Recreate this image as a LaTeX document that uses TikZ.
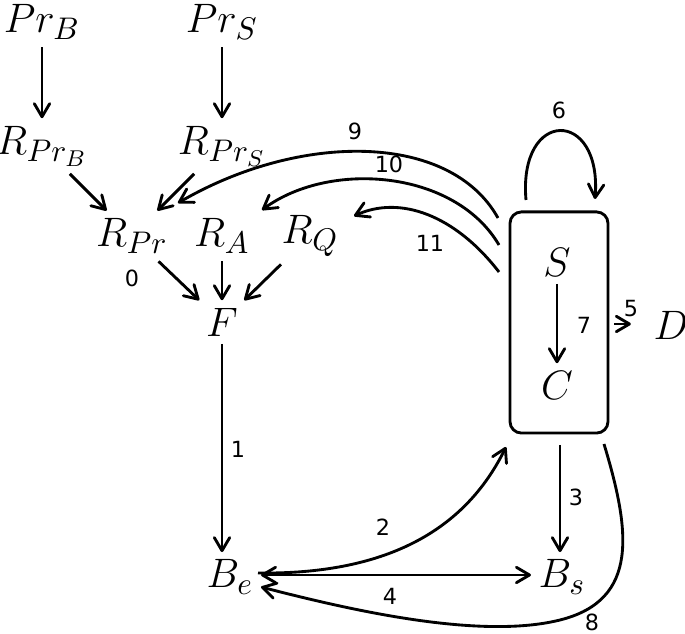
\documentclass[tikz,border=0pt]{standalone}
\usepackage{fontspec}
\newfontfamily\lblfont{DejaVu Sans}
\usetikzlibrary{arrows.meta}
\begin{document}
\begin{tikzpicture}[x=0.35pt,y=-0.35pt,
  mnode/.style={inner sep=2.5pt,font=\fontsize{15.2}{18}\selectfont},
  lbl/.style={inner sep=0pt,font=\lblfont\fontsize{7.8}{9}\selectfont},
  tip/.tip={Straight Barb[length=4.6pt,width=5.4pt,line join=round,line cap=round]},
  arr/.style={line width=1pt,-tip},
  darr/.style={line width=1pt,tip-tip},
  boxstyle/.style={draw,line width=1pt,rounded corners=4pt,minimum width=34.3pt,minimum height=77.4pt,inner sep=0pt}
]
\useasboundingbox (0,0) rectangle (685,634);
% nodes
\node[mnode] (PrB) at (42,22) {$Pr_B$};
\node[mnode] (PrS) at (222,22) {$Pr_S$};
\node[mnode] (RPrB) at (42,146) {$R_{Pr_B}$};
\node[mnode] (RPrS) at (222,146) {$R_{Pr_S}$};
\node[mnode] (RPr) at (132,236) {$R_{Pr}$};
\node[mnode] (RA) at (222,236) {$R_A$};
\node[mnode] (RQ) at (310,236) {$R_Q$};
\node[mnode] (F) at (222,322) {$F$};
\node[mnode] (Be) at (230,577) {$B_e$};
\node[mnode] (Bs) at (562,577) {$B_s$};
\node[boxstyle] (box) at (559,322.5) {};
\node[mnode] (S) at (557,262) {$S$};
\node[mnode] (C) at (557,385) {$C$};
\node[mnode] (D) at (671,325) {$D$};
% connector end points
\coordinate (s9) at (498,218);
\coordinate (e9) at (178,203);
\coordinate (s10) at (499,245);
\coordinate (e10) at (262,210);
\coordinate (s11) at (499,272);
\coordinate (e11) at (354,216);
\coordinate (s6) at (526,200);
\coordinate (e6) at (595,199);
\coordinate (s2) at (258,573);
\coordinate (e2) at (506,447);
\coordinate (s8) at (604,444);
\coordinate (m8) at (560,620);
\coordinate (e8) at (261,587);
\coordinate (s3) at (560,445);
\coordinate (s5) at (614,324);
% straight connectors
\draw[arr] (PrB) -- (RPrB);
\draw[arr] (PrS) -- (RPrS);
\draw[arr] (RPrB) -- (RPr);
\draw[arr] (RPrS) -- (RPr);
\draw[arr] (RPr) -- (F);
\draw[arr] (RA) -- (F);
\draw[arr] (RQ) -- (F);
\draw[arr] (F) -- (F |- Be.north);
\draw[arr] (S) -- (C);
\draw[arr] (s3) -- (s3 |- Bs.north);
\draw[arr,shorten >=5.3pt] (s5) -- (s5 -| D.west);
\draw[darr] (Be.east |- 0,575) -- (Bs.west |- 0,575);
% curved connectors
\draw[arr] (s9) .. controls (450,132) and (300,132) .. (e9);
\draw[arr] (s10) .. controls (455,170) and (330,160) .. (e10);
\draw[arr] (s11) .. controls (455,215) and (400,195) .. (e11);
\draw[arr] (s6) .. controls (518,108) and (602,108) .. (e6);
\draw[arr] (s2) .. controls (400,575) and (470,520) .. (e2);
\draw[arr] (s8) .. controls (630,530) and (640,600) .. (m8) .. controls (480,640) and (350,610) .. (e8);
% labels
\node[lbl] (l0) at (132,278) {0};
\node[lbl] (l1) at (238,449) {1};
\node[lbl] (l2) at (383,527) {2};
\node[lbl] (l3) at (576,497) {3};
\node[lbl] (l4) at (390,596) {4};
\node[lbl] (l5) at (631,309) {5};
\node[lbl] (l6) at (559,110) {6};
\node[lbl] (l7) at (584,325) {7};
\node[lbl] (l8) at (592,622) {8};
\node[lbl] (l9) at (355,131) {9};
\node[lbl] (l10) at (389,164) {10};
\node[lbl] (l11) at (430,243) {11};
\end{tikzpicture}
\end{document}
